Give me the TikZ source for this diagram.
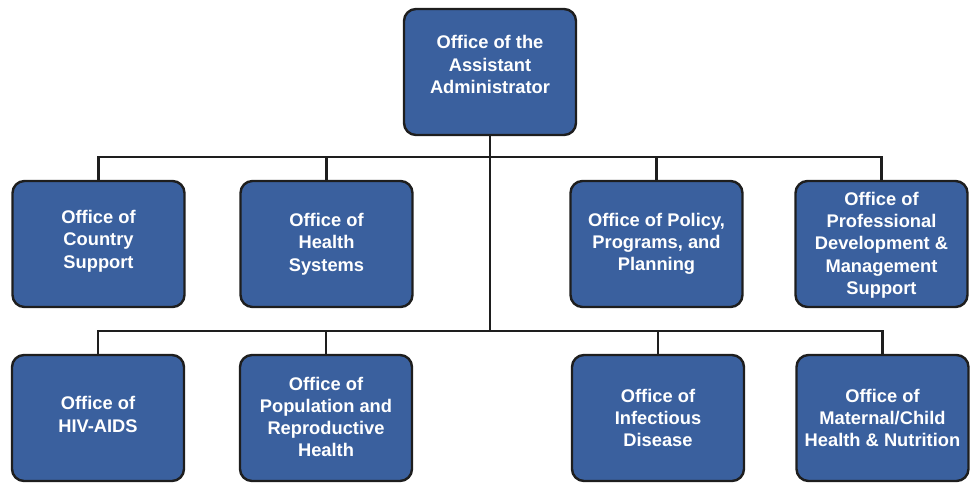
\documentclass[tikz,border=0pt]{standalone}
\usepackage{fontspec}
\setmainfont{Liberation Sans}
\definecolor{boxblue}{HTML}{3A609E}
\definecolor{edge}{HTML}{1E1E1E}
\begin{document}
\begin{tikzpicture}[x=1pt,y=-1pt,
  office/.style={draw=edge, line width=2.4pt, fill=boxblue, rounded corners=12pt,
    minimum width=172pt, minimum height=126pt, inner sep=0pt},
  txt/.style={align=center, text=white,
    font=\fontsize{18.3}{22.3}\selectfont\bfseries, inner sep=0pt},
  link/.style={draw=edge, line width=2.2pt}]
\useasboundingbox (0,0) rectangle (975,483);
\node[office] (top) at (490,72) {};
\node[txt, yshift=7.5pt] (ttop) at (top) {Office of the\\Assistant\\Administrator};
\node[office] (cs) at (98.5,244) {};
\node[txt, yshift=3pt] (tcs) at (cs) {Office of\\Country\\Support};
\node[office] (hs) at (326.5,244) {};
\node[txt] (ths) at (hs) {Office of\\Health\\Systems};
\node[office] (ppp) at (656.5,244) {};
\node[txt] (tppp) at (ppp) {Office of Policy,\\Programs, and\\Planning};
\node[office] (pd) at (881.5,244) {};
\node[txt, yshift=-1pt] (tpd) at (pd) {Office of\\Professional\\Development \&\\Management\\Support};
\node[office] (hiv) at (98,418) {};
\node[txt, yshift=3.5pt] (thiv) at (hiv) {Office of\\HIV-AIDS};
\node[office] (pop) at (326,418) {};
\node[txt, yshift=1pt] (tpop) at (pop) {Office of\\Population and\\Reproductive\\Health};
\node[office] (inf) at (658,418) {};
\node[txt] (tinf) at (inf) {Office of\\Infectious\\Disease};
\node[office] (mch) at (882.5,418) {};
\node[txt] (tmch) at (mch) {Office of\\Maternal/Child\\Health \& Nutrition};
\coordinate (b1) at (490,157);
\coordinate (b2) at (490,331);
\draw[link] (top.south) -- (b2);
\draw[link] (cs.north) |- (b1) -| (pd.north);
\draw[link] (hs.north) -- (hs.north |- b1);
\draw[link] (ppp.north) -- (ppp.north |- b1);
\draw[link] (hiv.north) |- (b2) -| (mch.north);
\draw[link] (pop.north) -- (pop.north |- b2);
\draw[link] (inf.north) -- (inf.north |- b2);
\end{tikzpicture}
\end{document}
